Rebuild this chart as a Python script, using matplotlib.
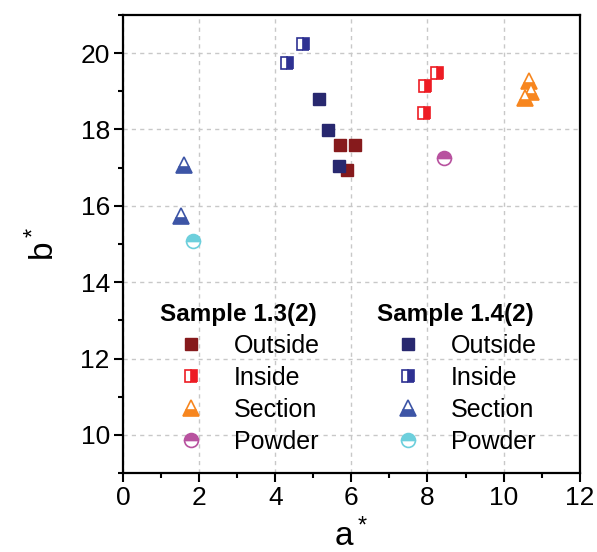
import matplotlib
matplotlib.use("Agg")
import matplotlib.pyplot as plt
from matplotlib.ticker import MultipleLocator

plt.rcParams['font.family'] = ['Liberation Sans', 'DejaVu Sans']
plt.rcParams['mathtext.fontset'] = 'custom'
plt.rcParams['mathtext.rm'] = 'Liberation Sans'

# Sample 1.3(2)
s13_outside_a = [5.70, 6.10, 5.89]
s13_outside_b = [17.60, 17.60, 16.94]
s13_inside_a = [8.26, 7.94, 7.91]
s13_inside_b = [19.49, 19.13, 18.43]
s13_section_a = [10.68, 10.73, 10.55]
s13_section_b = [19.26, 18.97, 18.83]
s13_powder_a = [8.43]
s13_powder_b = [17.26]

# Sample 1.4(2)
s14_outside_a = [5.15, 5.39, 5.68]
s14_outside_b = [18.81, 17.98, 17.03]
s14_inside_a = [4.73, 4.32]
s14_inside_b = [20.23, 19.75]
s14_section_a = [1.60, 1.52]
s14_section_b = [17.06, 15.73]
s14_powder_a = [1.85]
s14_powder_b = [15.09]

labels = ['Outside', 'Inside', 'Section', 'Powder']
titles = ['Sample 1.3(2)', 'Sample 1.4(2)']

fig = plt.figure(figsize=(5.97, 5.52), dpi=100)
ax = fig.add_axes([0.206, 0.143, 0.765, 0.830])

sq = 8.6
tri = 12
circ = 10

def series(x, y, color, kind):
    if kind == 'Outside':
        return ax.plot(x, y, ls='none', marker='s', ms=sq, mfc=color, mec=color, mew=1.0)[0]
    if kind == 'Inside':
        return ax.plot(x, y, ls='none', marker='s', ms=sq, fillstyle='right', mfc=color,
                       mfcalt='white', mec=color, mew=1.2)[0]
    if kind == 'Section':
        return ax.plot(x, y, ls='none', marker='^', ms=tri, fillstyle='bottom', mfc=color,
                       mfcalt='white', mec=color, mew=1.2)[0]
    return ax.plot(x, y, ls='none', marker='o', ms=circ, fillstyle='top', mfc=color,
                   mfcalt='white', mec=color, mew=1.2)[0]

h13 = [
    series(s13_outside_a, s13_outside_b, '#861A1C', 'Outside'),
    series(s13_inside_a, s13_inside_b, '#ED1C24', 'Inside'),
    series(s13_section_a, s13_section_b, '#F7861F', 'Section'),
    series(s13_powder_a, s13_powder_b, '#B8529F', 'Powder'),
]
h14 = [
    series(s14_outside_a, s14_outside_b, '#28286F', 'Outside'),
    series(s14_inside_a, s14_inside_b, '#2E3192', 'Inside'),
    series(s14_section_a, s14_section_b, '#3D55A6', 'Section'),
    series(s14_powder_a, s14_powder_b, '#6DCFDC', 'Powder'),
]

ax.set_xlim(0, 12)
ax.set_ylim(9, 21)
ax.xaxis.set_major_locator(MultipleLocator(2))
ax.xaxis.set_minor_locator(MultipleLocator(1))
ax.yaxis.set_minor_locator(MultipleLocator(1))
ax.set_yticks([10, 12, 14, 16, 18, 20])
ax.tick_params(which='major', direction='out', length=6.5, width=1.5, labelsize=19, pad=3,
               top=False, right=False)
ax.tick_params(which='minor', direction='out', length=3.6, width=1.5, top=False, right=False)
for s in ax.spines.values():
    s.set_linewidth(1.6)
ax.grid(True, which='major', ls=(0, (3, 3)), color='#C8C8C8', lw=1.0)
ax.set_axisbelow(True)

ax.set_xlabel(r'$\mathregular{a^*}$', fontsize=24, labelpad=6)
ax.set_ylabel(r'$\mathregular{b^*}$', fontsize=24, labelpad=14)

common = dict(frameon=False, fontsize=18, title_fontproperties={'weight': 'bold', 'size': 17.5},
              alignment='left', handlelength=2.5, handletextpad=0.45, labelspacing=0.32,
              borderpad=0, borderaxespad=0, loc='upper left')
leg1 = ax.legend(h13, labels, title=titles[0], bbox_to_anchor=(0.081, 0.372), **common)
ax.add_artist(leg1)
leg2 = ax.legend(h14, labels, title=titles[1], bbox_to_anchor=(0.556, 0.372), **common)

fig.savefig('out.png', dpi=100)
